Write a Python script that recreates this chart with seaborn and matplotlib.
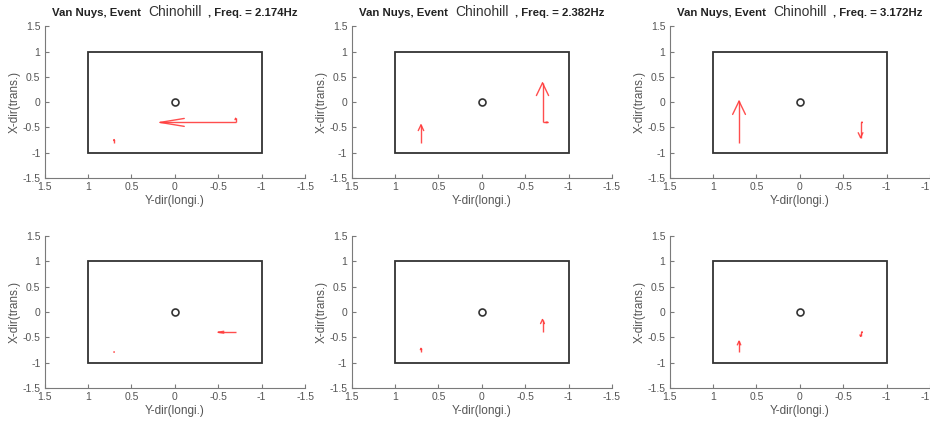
import numpy as np
import matplotlib.pyplot as plt
import seaborn as sns
from matplotlib.patches import Rectangle
from matplotlib.offsetbox import TextArea, HPacker, AnchoredOffsetbox

sns.set_style('ticks')
plt.rcParams['font.family'] = ['Liberation Sans', 'DejaVu Sans']
plt.rcParams['axes.unicode_minus'] = False

# sensor locations (Y-dir longi., X-dir trans.)
pt_long = [0.7, -0.7]
pt_trans = [-0.8, -0.4]

freqs = ['2.174', '2.382', '3.172']

# mode shape components per panel: [point A, point B]
u_top = [[0.0, 0.87], [0.0, -0.06], [0.0, -0.02]]
v_top = [[0.06, 0.08], [0.35, 0.78], [0.82, -0.30]]
u_bot = [[0.0, 0.20], [0.0, 0.0], [0.0, -0.02]]
v_bot = [[0.01, 0.0], [0.08, 0.25], [0.22, -0.08]]

ticks = [1.5, 1, 0.5, 0, -0.5, -1, -1.5]
tick_labels = ['1.5', '1', '0.5', '0', '-0.5', '-1', '-1.5']

gray = '#7a7a7a'
txt = '#555555'
red = '#ff3b3b'


def arrow(ax, x0, y0, dx, dy):
    # matlab-ish quiver arrow with open head scaled to length
    L = np.hypot(dx, dy)
    if L == 0:
        return
    x1, y1 = x0 + dx, y0 + dy
    ax.plot([x0, x1], [y0, y1], color=red, lw=1.0, alpha=0.9, solid_capstyle='butt')
    ux, uy = dx / L, dy / L
    hl, hw = 0.32 * L, 0.09 * L
    for s in (1, -1):
        ax.plot([x1, x1 - hl * ux + s * hw * (-uy)], [y1, y1 - hl * uy + s * hw * ux],
                color=red, lw=1.0, alpha=0.9)


fig = plt.figure(figsize=(9.3, 4.23), dpi=100)
lefts = [0.048, 0.378, 0.720]
bottoms = [0.579, 0.083]

for r, (us, vs) in enumerate([(u_top, v_top), (u_bot, v_bot)]):
    for c in range(3):
        ax = fig.add_axes([lefts[c], bottoms[r], 0.28, 0.359])
        ax.set_xlim(1.5, -1.5)
        ax.set_ylim(-1.5, 1.5)
        ax.set_xticks(ticks)
        ax.set_xticklabels(tick_labels)
        ax.set_yticks(ticks)
        ax.set_yticklabels(tick_labels)
        ax.tick_params(direction='in', length=3, width=0.8, color=gray,
                       labelcolor=txt, labelsize=7.5, pad=3)
        sns.despine(ax=ax)
        for sp in ('left', 'bottom'):
            ax.spines[sp].set_color(gray)
            ax.spines[sp].set_linewidth(0.8)

        ax.add_patch(Rectangle((-1, -1), 2, 2, fill=False, ec='#333333', lw=1.3))
        ax.plot([0], [0], 'o', mfc='none', mec='#333333', ms=5, mew=1.2)

        for i in range(2):
            arrow(ax, pt_long[i], pt_trans[i], us[c][i], 0.0)
            arrow(ax, pt_long[i], pt_trans[i], 0.0, vs[c][i])

        ax.set_xlabel('Y-dir(longi.)', color=txt, fontsize=8.5, labelpad=2)
        ax.set_ylabel('X-dir(trans.)', color=txt, fontsize=8.5, labelpad=1)

        if r == 0:
            parts = [
                TextArea('Van Nuys, Event', textprops=dict(fontweight='bold', fontsize=8.2, color='#222222')),
                TextArea('Chinohill', textprops=dict(fontsize=10, color='#333333')),
                TextArea(', Freq. = ' + freqs[c] + 'Hz', textprops=dict(fontweight='bold', fontsize=8.2, color='#222222')),
            ]
            box = HPacker(children=parts, align='baseline', pad=0, sep=5)
            anc = AnchoredOffsetbox(loc='lower center', child=box, frameon=False,
                                    bbox_to_anchor=(0.5, 1.05), bbox_transform=ax.transAxes,
                                    borderpad=0, pad=0)
            ax.add_artist(anc)

plt.savefig('out.png', dpi=100)
